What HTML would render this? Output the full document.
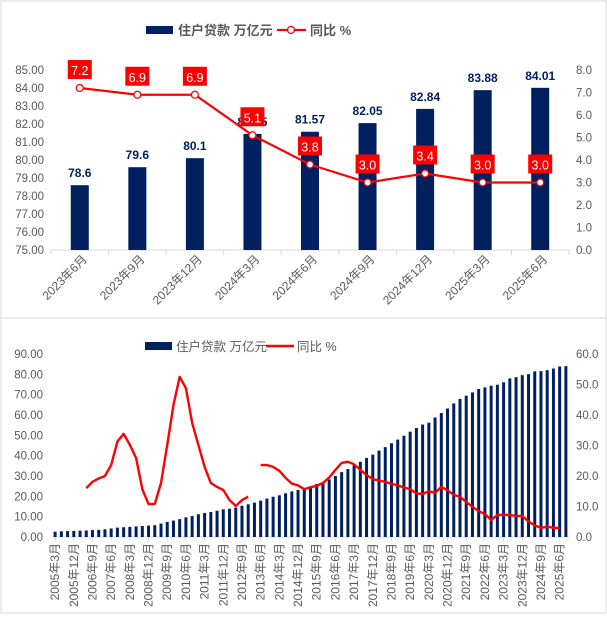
<!DOCTYPE html>
<html><head><meta charset="utf-8"><style>
body{margin:0;background:#fff}
svg text{font-family:"Liberation Sans","Noto Sans CJK SC",sans-serif}
</style></head><body>
<svg id="svg" width="607" height="614" xmlns="http://www.w3.org/2000/svg">
<rect x="1" y="1" width="605" height="317" fill="#fff" stroke="#d9d9d9"/>
<rect x="1" y="318" width="605" height="295" fill="#fff" stroke="#d9d9d9"/>
<g id="top"></g><g id="bot"></g>
</svg>
<script>
const topCats=["2023年6月","2023年9月","2023年12月","2024年3月","2024年6月","2024年9月","2024年12月","2025年3月","2025年6月"];
const topLoans=[78.6,79.6,80.1,81.45,81.57,82.05,82.84,83.88,84.01];
const topYoy=[7.2,6.9,6.9,5.1,3.8,3.0,3.4,3.0,3.0];
const topLeftTicks=[75,76,77,78,79,80,81,82,83,84,85];
const topRightTicks=[0,1,2,3,4,5,6,7,8];

const botLoans=[2.6,2.8,2.9,3.0,3.1,3.2,3.4,3.5,3.8,4.2,4.6,4.8,5.0,5.2,5.4,5.6,5.8,6.6,7.4,8.1,8.8,9.7,10.3,11.2,11.8,12.3,12.9,13.6,13.9,14.5,15.4,16.1,16.9,17.9,18.9,19.8,20.5,21.5,22.4,23.1,23.7,24.9,26.1,27.0,28.3,30.0,31.9,33.4,35.2,37.0,38.9,40.5,42.5,44.2,46.1,47.9,49.8,51.8,53.6,55.3,56.2,58.8,61.0,63.2,65.7,67.9,69.5,71.1,72.8,73.6,74.4,74.9,76.1,78.0,78.6,79.6,80.1,81.45,81.57,82.05,82.84,83.88,84.01];
const botYoy=[null,null,null,null,null,16,18.1,19.2,20,23.6,31.3,33.8,30.2,25.9,15.7,10.8,10.8,17.7,30.2,43.3,52.5,48.8,37.4,30.2,23,17.7,16.4,15.4,12.1,10.2,12.1,13.2,null,23.6,23.6,23,21.7,19.4,17.5,16.9,15.7,16.3,16.8,17.7,19.5,22,24.3,24.7,23.8,22,20.3,19,18.5,18.1,17.4,17,16.2,15.7,14.3,14.1,15,14.5,16.4,15.3,13.8,13.2,11.5,9.9,8.5,7.5,5.6,7.2,7.3,7.2,6.9,6.9,5.1,3.8,3.0,3.4,3.0,3.0];
const botLeftTicks=[0,10,20,30,40,50,60,70,80,90];
const botRightTicks=[0,10,20,30,40,50,60];
const botStartYear=2005;

const NS="http://www.w3.org/2000/svg";
function mk(p,tag,attrs,txt){const e=document.createElementNS(NS,tag);for(const k in attrs)e.setAttribute(k,attrs[k]);if(txt!==undefined)e.textContent=txt;p.appendChild(e);return e;}

// ---- top chart
const T=document.getElementById('top');
const tx0=51,tx1=569,ty0=250,ty1=70;
const tStep=(tx1-tx0)/topCats.length;
const tX=i=>tx0+tStep*(i+0.5);
const tYL=v=>ty0-(v-75)/(85-75)*(ty0-ty1);
const tYR=v=>ty0-v/8*(ty0-ty1);
topLeftTicks.forEach(v=>{const t=mk(T,'text',{x:44,y:tYL(v)+4,'text-anchor':'end','font-size':11.5,fill:'#595959'},v.toFixed(2));
});
topRightTicks.forEach(v=>{const t=mk(T,'text',{x:576,y:tYR(v)+4,'font-size':11.5,fill:'#595959'},v.toFixed(1));
});
const tax=mk(T,'line',{x1:tx0,x2:tx1,y1:ty0,y2:ty0,stroke:'#d9d9d9'});

for(let i=0;i<=topCats.length;i++){const l=mk(T,'line',{x1:tx0+i*tStep,x2:tx0+i*tStep,y1:ty0,y2:ty0+5,stroke:'#d9d9d9'});
}
topCats.forEach((c,i)=>{const x=tX(i),y=tYL(topLoans[i]);
const b=mk(T,'rect',{x:x-9,y:y,width:18,height:ty0-y,fill:'#002060'});

const lb=mk(T,'text',{x:x,y:y-8,'text-anchor':'middle','font-size':12,'font-weight':'bold',fill:'#002060'},String(topLoans[i]));

const xl=mk(T,'text',{x:x+8,y:ty0+10,'text-anchor':'end','font-size':12,fill:'#595959',transform:`rotate(-45 ${x+8} ${ty0+10})`},c);
});
const tl=mk(T,'polyline',{points:topYoy.map((v,i)=>tX(i)+','+tYR(v)).join(' '),fill:'none',stroke:'#ff0000','stroke-width':2.2});

topYoy.forEach((v,i)=>{const x=tX(i),y=tYR(v);
const c=mk(T,'circle',{cx:x,cy:y,r:3.5,fill:'#fff',stroke:'#ff0000','stroke-width':1.3});

const r=mk(T,'rect',{x:x-12,y:y-28,width:24,height:19,fill:'#ff0000'});

const t=mk(T,'text',{x:x,y:y-13,'text-anchor':'middle','font-size':12.5,fill:'#fff'},v.toFixed(1));
});
// top legend
let e=mk(T,'rect',{x:146,y:26,width:27,height:8,fill:'#002060'});
e=mk(T,'text',{x:178,y:35,'font-size':13,'font-weight':'bold',fill:'#595959'},'住户贷款 万亿元');
e=mk(T,'line',{x1:277,x2:306,y1:30,y2:30,stroke:'#ff0000','stroke-width':2.2});
e=mk(T,'circle',{cx:291,cy:30,r:3.5,fill:'#fff',stroke:'#ff0000','stroke-width':1.3});
e=mk(T,'text',{x:310,y:35,'font-size':13,'font-weight':'bold',fill:'#595959'},'同比 %');

// ---- bottom chart
const B=document.getElementById('bot');
const bx0=52,bx1=569,by0=537,by1=354;
const n=botLoans.length;
const bStep=(bx1-bx0)/n;
const bX=i=>bx0+bStep*(i+0.5);
const bYL=v=>by0-v/90*(by0-by1);
const bYR=v=>by0-v/60*(by0-by1);
botLeftTicks.forEach(v=>{const t=mk(B,'text',{x:43,y:bYL(v)+4,'text-anchor':'end','font-size':11.5,fill:'#595959'},v.toFixed(2));
});
botRightTicks.forEach(v=>{const t=mk(B,'text',{x:576,y:bYR(v)+4,'font-size':11.5,fill:'#595959'},v.toFixed(1));
});
e=mk(B,'line',{x1:bx0,x2:bx1,y1:by0,y2:by0,stroke:'#d9d9d9'});
botLoans.forEach((v,i)=>{const x=bX(i),y=bYL(v);
const b=mk(B,'rect',{x:x-1.5,y:y,width:3,height:by0-y,fill:'#002060'});

if(i%3===0){const yr=botStartYear+Math.floor(i/4),m=(i%4+1)*3;
const tk=mk(B,'line',{x1:x,x2:x,y1:by0,y2:by0+4,stroke:'#d9d9d9'});
const t=mk(B,'text',{x:x+4,y:by0+6,'text-anchor':'end','font-size':12,fill:'#595959',transform:`rotate(-90 ${x+4} ${by0+6})`},yr+'年'+m+'月');
}});
let segs=[],cur=[];
botYoy.forEach((v,i)=>{if(v===null){if(cur.length)segs.push(cur);cur=[];}else cur.push(bX(i)+','+bYR(v));});
if(cur.length)segs.push(cur);
segs.forEach(s=>{const p=mk(B,'polyline',{points:s.join(' '),fill:'none',stroke:'#ff0000','stroke-width':2.4,'stroke-linejoin':'round'});
});
e=mk(B,'rect',{x:145,y:342,width:27,height:8,fill:'#002060'});
e=mk(B,'text',{x:176,y:351,'font-size':12.5,fill:'#595959'},'住户贷款 万亿元');
e=mk(B,'line',{x1:266,x2:294,y1:346,y2:346,stroke:'#ff0000','stroke-width':2.4});
e=mk(B,'text',{x:297,y:351,'font-size':12.5,fill:'#595959'},'同比 %');
</script>
</body></html>
